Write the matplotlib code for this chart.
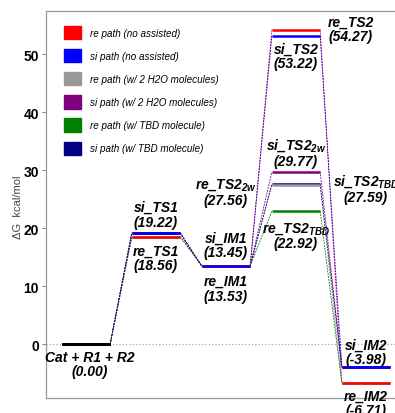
import matplotlib
matplotlib.use('Agg')
import matplotlib.pyplot as plt
from matplotlib.patches import Patch

plt.rcParams['font.family'] = ['Liberation Sans', 'DejaVu Sans']
plt.rcParams['mathtext.fontset'] = 'custom'
plt.rcParams['mathtext.rm'] = 'Liberation Sans:bold:italic'
plt.rcParams['mathtext.it'] = 'Liberation Sans:bold:italic'
plt.rcParams['mathtext.bf'] = 'Liberation Sans:bold:italic'

# energies (kcal/mol) along the reaction coordinate
states = ['R', 'TS1', 'IM1', 'TS2', 'IM2']
re_path = [0.00, 18.56, 13.53, 54.27, -6.71]
si_path = [0.00, 19.22, 13.45, 53.22, -3.98]
re_2w = [0.00, 18.56, 13.53, 27.56, -6.71]
si_2w = [0.00, 19.22, 13.45, 29.77, -3.98]
re_tbd = [0.00, 18.56, 13.53, 22.92, -6.71]
si_tbd = [0.00, 19.22, 13.45, 27.59, -3.98]

paths = [re_path, si_path, re_2w, si_2w, re_tbd, si_tbd]
names = ['re path (no assisted)', 'si path (no assisted)',
         're path (w/ 2 H2O molecules)', 'si path (w/ 2 H2O molecules)',
         're path (w/ TBD molecule)', 'si path (w/ TBD molecule)']
colors = ['#ff0000', '#0000ff', '#999999', '#800080', '#008000', '#000080']

half = 0.345

fig = plt.figure(figsize=(3.95, 4.14), dpi=100)
ax = fig.add_axes([0.1165, 0.036, 0.8835, 0.935])

ax.axhline(0, color='#aaaaaa', ls=':', lw=0.9, zorder=0)

# dashed connectors
for vals, c in zip(paths, colors):
    for i in range(len(vals) - 1):
        ax.plot([i + half, i + 1 - half], [vals[i], vals[i + 1]],
                color=c, ls='--', lw=0.6, dashes=(2.2, 1.2), zorder=1)

# levels: assisted paths first, then re and si on top
order = [5, 4, 3, 2, 0, 1]
for k in order:
    vals, c = paths[k], colors[k]
    for i, v in enumerate(vals):
        col = 'black' if i == 0 else c
        ax.plot([i - half, i + half], [v, v], color=col, lw=1.8,
                solid_capstyle='butt', zorder=3)

tk = dict(fontsize=10, fontweight='bold', fontstyle='italic',
          ha='center', linespacing=1.05)
ax.annotate('Cat + R1 + R2\n(0.00)', (0.05, 0), xytext=(0, -4),
            textcoords='offset points', va='top', **tk)
ax.annotate('si_TS1\n(19.22)', (1, si_path[1]), xytext=(0, 3),
            textcoords='offset points', va='bottom', **tk)
ax.annotate('re_TS1\n(18.56)', (1, re_path[1]), xytext=(0, -5),
            textcoords='offset points', va='top', **tk)
ax.annotate('si_IM1\n(13.45)', (2, si_path[2]), xytext=(0, 5),
            textcoords='offset points', va='bottom', **tk)
ax.annotate('re_IM1\n(13.53)', (2, re_path[2]), xytext=(0, -6),
            textcoords='offset points', va='top', **tk)
ax.text(2, 26.3, 're_TS2$_{2w}$\n(27.56)', va='center', **tk)
ax.annotate('si_TS2$_{2w}$\n(29.77)', (3, si_2w[3]), xytext=(0, 3),
            textcoords='offset points', va='bottom', **tk)
ax.text(4.0, 26.9, 'si_TS2$_{TBD}$\n(27.59)', va='center', **tk)
ax.annotate('re_TS2$_{TBD}$\n(22.92)', (3, re_tbd[3]), xytext=(0, -6),
            textcoords='offset points', va='top', **tk)
ax.text(3.78, 54.4, 're_TS2\n(54.27)', va='center', **tk)
ax.annotate('si_TS2\n(53.22)', (3, si_path[3]), xytext=(0, -4),
            textcoords='offset points', va='top', **tk)
ax.annotate('si_IM2\n(-3.98)', (4, si_path[4]), xytext=(0, 1),
            textcoords='offset points', va='bottom', **tk)
ax.annotate('re_IM2\n(-6.71)', (4, re_path[4]), xytext=(0, -4),
            textcoords='offset points', va='top', **tk)

handles = [Patch(facecolor=c, edgecolor=c) for c in colors]
ax.legend(handles, names, loc='upper left', bbox_to_anchor=(0.052, 0.962),
          frameon=False, prop=dict(size=7.1, style='italic'),
          handlelength=1.7, handleheight=1.7, labelspacing=1.0,
          handletextpad=0.9, borderaxespad=0, borderpad=0)

ax.set_xlim(-0.571, 4.414)
ax.set_ylim(-9.3, 57.5)
ax.set_xticks([])
ax.set_yticks([0, 10, 20, 30, 40, 50])
for lab in ax.get_yticklabels():
    lab.set_fontweight('bold')
    lab.set_fontsize(10)
ax.tick_params(axis='y', length=3, width=0.8, color='#888888', pad=2)
for s in ['left', 'top', 'bottom']:
    ax.spines[s].set_color('#999999')
    ax.spines[s].set_linewidth(0.9)
ax.spines['right'].set_visible(False)

fig.text(0.046, 0.5, 'ΔG  kcal/mol', rotation=90, ha='center', va='center',
         fontsize=8, color='#444444')

fig.savefig('out.png', dpi=100)
